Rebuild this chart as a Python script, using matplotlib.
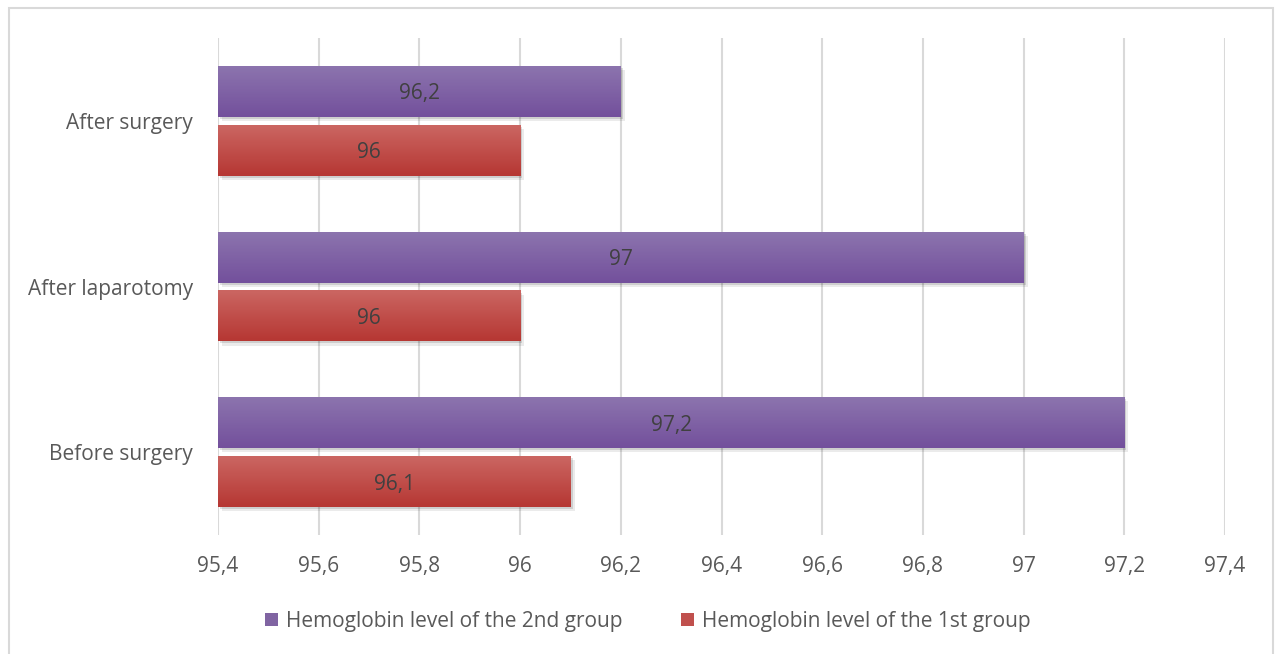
import numpy as np
import matplotlib
matplotlib.use("Agg")
import matplotlib.pyplot as plt
from matplotlib.patches import Rectangle, Patch
import matplotlib.patheffects as pe
from matplotlib.colors import LinearSegmentedColormap

categories = ["Before surgery", "After laparotomy", "After surgery"]
group2 = [97.2, 97.0, 96.2]
group1 = [96.1, 96.0, 96.0]
series_names = ["Hemoglobin level of the 2nd group", "Hemoglobin level of the 1st group"]
xticks = [95.4, 95.6, 95.8, 96.0, 96.2, 96.4, 96.6, 96.8, 97.0, 97.2, 97.4]

plt.rcParams['font.family'] = ['Open Sans', 'DejaVu Sans']

W, H = 1275, 654
fig = plt.figure(figsize=(W/100, H/100), dpi=100)
ax = fig.add_axes([218/W, 1-535/H, (1225-218)/W, (535-38)/H])

base = 95.4
y = np.arange(len(categories))
h = 0.307
off = 0.1775

purple_top, purple_bot = "#8C74AE", "#73509C"
red_top, red_bot = "#CB6662", "#B63733"
purple_mid, red_mid = "#8064A2", "#C0504D"

bars2 = ax.barh(y + off, np.array(group2) - base, left=base, height=h, color=purple_mid, zorder=3)
bars1 = ax.barh(y - off, np.array(group1) - base, left=base, height=h, color=red_mid, zorder=3)

shadow = [pe.SimplePatchShadow(offset=(3, -3), shadow_rgbFace='#000000', alpha=0.08),
          pe.SimplePatchShadow(offset=(1.5, -1.5), shadow_rgbFace='#000000', alpha=0.12),
          pe.Normal()]
grad = np.linspace(0, 1, 64).reshape(-1, 1)
for bars, (ct, cb) in [(bars2, (purple_top, purple_bot)), (bars1, (red_top, red_bot))]:
    cmap = LinearSegmentedColormap.from_list("g", [cb, ct])
    for b in bars:
        b.set_path_effects(shadow)
        x0, y0 = b.get_x(), b.get_y()
        w, hh = b.get_width(), b.get_height()
        im = ax.imshow(grad, extent=[x0, x0 + w, y0, y0 + hh], origin='lower',
                       cmap=cmap, aspect='auto', zorder=4, interpolation='bilinear')
        im.set_clip_path(b)

def fmt(v):
    s = f"{v:.1f}".rstrip('0').rstrip('.')
    return s.replace('.', ',')

for bars, vals in [(bars2, group2), (bars1, group1)]:
    for b, v in zip(bars, vals):
        ax.text(base + (v - base) / 2, b.get_y() + b.get_height() / 2 - 0.015, fmt(v),
                ha='center', va='center', fontsize=15, color='#404040', zorder=5)

ax.set_xlim(95.4, 97.4)
ax.set_ylim(-0.5, 2.5)
ax.set_xticks(xticks)
ax.set_xticklabels([fmt(v) for v in xticks], fontsize=15, color='#595959')
ax.set_yticks(y)
ax.set_yticklabels(categories, fontsize=15, color='#595959')
ax.tick_params(axis='both', length=0)
ax.tick_params(axis='x', pad=15)
ax.tick_params(axis='y', pad=18)
ax.grid(axis='x', color='#D9D9D9', linewidth=1.5, zorder=0)
ax.set_axisbelow(True)
for s in ax.spines.values():
    s.set_visible(False)

handles = [Patch(facecolor=purple_mid, edgecolor='none'), Patch(facecolor=red_mid, edgecolor='none')]
leg = fig.legend(handles, series_names, loc='center', bbox_to_anchor=(648/W, 1-621/H), ncol=2,
                 frameon=False, fontsize=15, handlelength=0.6, handleheight=0.6,
                 handletextpad=0.4, columnspacing=2.8)
for t in leg.get_texts():
    t.set_color('#595959')

fig.patches.append(Rectangle((9/W, -0.05), (1273-9)/W, 1.05 - 8/H, transform=fig.transFigure,
                             fill=False, edgecolor='#D9D9D9', linewidth=1.5))

fig.savefig("out.png", dpi=100)
